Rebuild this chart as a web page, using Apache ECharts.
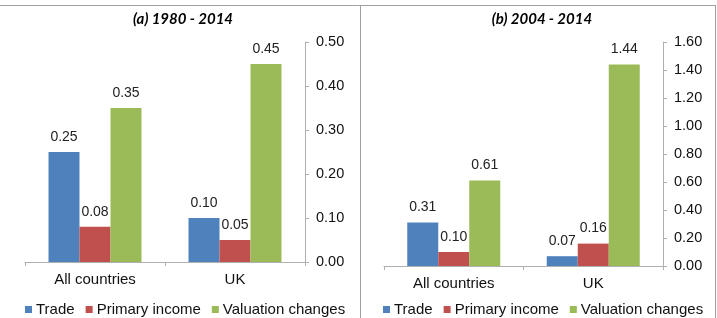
<!DOCTYPE html>
<html>
<head>
<meta charset="utf-8">
<script src="https://cdn.jsdelivr.net/npm/echarts@6/dist/echarts.min.js"></script>
<style>
  html, body { margin: 0; padding: 0; background: #fff; }
  #chart { width: 717px; height: 318px; }
</style>
</head>
<body>
<div id="chart"></div>
<script>
// categories and series
var categories = ['All countries', 'UK'];
var seriesNames = ['Trade', 'Primary income', 'Valuation changes'];
var colors = ['#4F81BD', '#C0504D', '#9BBB59'];

// (a) 1980 - 2014
var tradeA = [0.25, 0.10];
var incomeA = [0.08, 0.05];
var valuationA = [0.35, 0.45];

// (b) 2004 - 2014
var tradeB = [0.31, 0.07];
var incomeB = [0.10, 0.16];
var valuationB = [0.61, 1.44];

var titles = ['(a) 1980 - 2014', '(b) 2004 - 2014'];

var chart = echarts.init(document.getElementById('chart'));

function makeSeries(data, idx, axisIdx) {
    return {
        name: seriesNames[idx],
        type: 'bar',
        xAxisIndex: axisIdx,
        yAxisIndex: axisIdx,
        data: data,
        barWidth: 31,
        barGap: '0%',
        itemStyle: { color: colors[idx] },
        label: {
            show: true,
            position: 'top',
            distance: 8,
            color: '#222',
            fontFamily: 'Liberation Sans',
            fontSize: 14,
            formatter: function (p) { return p.value.toFixed(2); }
        }
    };
}

var axisLine = { show: true, lineStyle: { color: '#b0b0b0', width: 1 } };
var axisTick = { show: true, length: 4, lineStyle: { color: '#b0b0b0' } };

function xAxis(gi) {
    return {
        type: 'category',
        gridIndex: gi,
        data: categories,
        axisLine: axisLine,
        axisTick: axisTick,
        axisLabel: { color: '#111', fontFamily: 'Liberation Sans', fontSize: 15, margin: 10 }
    };
}

function yAxis(gi, max, interval) {
    return {
        type: 'value',
        gridIndex: gi,
        position: 'right',
        min: 0,
        max: max,
        interval: interval,
        splitLine: { show: false },
        axisLine: axisLine,
        axisTick: axisTick,
        axisLabel: {
            color: '#111',
            fontFamily: 'Liberation Sans',
            fontSize: 14.5,
            margin: 11,
            formatter: function (v) { return v.toFixed(2); }
        }
    };
}

var legendBase = {
    top: 297,
    icon: 'rect',
    itemWidth: 7,
    itemHeight: 7,
    itemGap: 11,
    textStyle: { color: '#111', fontFamily: 'Liberation Sans', fontSize: 15, padding: [0, 0, 0, -1] },
    data: seriesNames
};

var option = {
    animation: false,
    title: [
        {
            text: titles[0], left: 178, top: 7, textAlign: 'center',
            textStyle: { fontFamily: 'Lato', fontStyle: 'italic', fontWeight: 'bold', fontSize: 15, color: '#000' }
        },
        {
            text: titles[1], left: 537, top: 7, textAlign: 'center',
            textStyle: { fontFamily: 'Lato', fontStyle: 'italic', fontWeight: 'bold', fontSize: 15, color: '#000' }
        }
    ],
    legend: [
        Object.assign({}, legendBase, { left: 20 }),
        Object.assign({}, legendBase, { left: 378 })
    ],
    grid: [
        { left: 25, top: 42, width: 280, height: 220 },
        { left: 384, top: 42, width: 279, height: 224 }
    ],
    xAxis: [xAxis(0), xAxis(1)],
    yAxis: [yAxis(0, 0.5, 0.1), yAxis(1, 1.6, 0.2)],
    series: [
        makeSeries(tradeA, 0, 0),
        makeSeries(incomeA, 1, 0),
        makeSeries(valuationA, 2, 0),
        makeSeries(tradeB, 0, 1),
        makeSeries(incomeB, 1, 1),
        makeSeries(valuationB, 2, 1)
    ],
    graphic: [
        { type: 'line', shape: { x1: 0, y1: 5.5, x2: 715, y2: 5.5 }, style: { stroke: '#a0a0a0', lineWidth: 1 } },
        { type: 'line', shape: { x1: 360.5, y1: 5, x2: 360.5, y2: 318 }, style: { stroke: '#a0a0a0', lineWidth: 1 } },
        { type: 'line', shape: { x1: 715.5, y1: 5, x2: 715.5, y2: 318 }, style: { stroke: '#a0a0a0', lineWidth: 1 } }
    ]
};

chart.setOption(option);
</script>
</body>
</html>
